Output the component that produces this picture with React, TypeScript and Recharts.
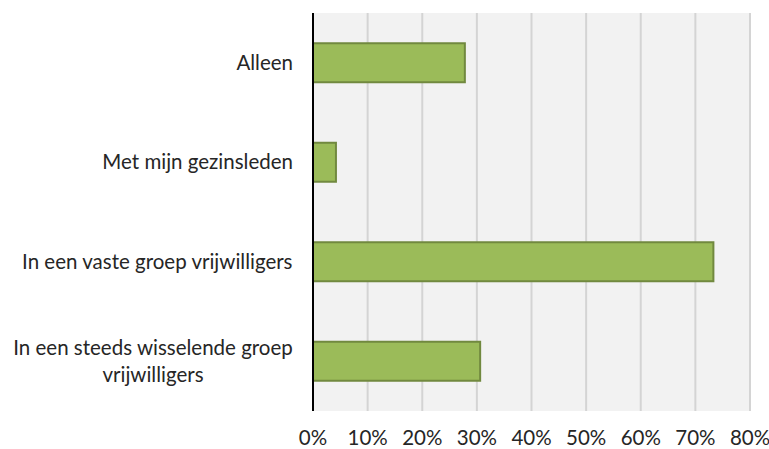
import { BarChart, Bar, XAxis, YAxis, CartesianGrid } from "recharts";

const categories = [
  "Alleen",
  "Met mijn gezinsleden",
  "In een vaste groep vrijwilligers",
  "In een steeds wisselende groep vrijwilligers",
];
const shares = [0.278, 0.042, 0.733, 0.306];
const xTicks = [0, 0.1, 0.2, 0.3, 0.4, 0.5, 0.6, 0.7, 0.8];

const data = categories.map((name, i) => ({ name, value: shares[i] }));

const FONT = "Lato, 'Open Sans', sans-serif";
const FONT_SIZE = 20.5;
const TEXT_COLOR = "#262626";

// greedy wrap on word boundaries, max chars per line
const wrap = (label: string, max = 34) => {
  const words = label.split(" ");
  const lines: string[] = [];
  let cur = "";
  for (const w of words) {
    const next = cur ? cur + " " + w : w;
    if (next.length > max && cur) {
      lines.push(cur);
      cur = w;
    } else {
      cur = next;
    }
  }
  if (cur) lines.push(cur);
  return lines;
};

let ctx: CanvasRenderingContext2D | null = null;
const measure = (s: string) => {
  if (!ctx) ctx = document.createElement("canvas").getContext("2d");
  if (!ctx) return s.length * FONT_SIZE * 0.5;
  ctx.font = `${FONT_SIZE}px Lato`;
  return ctx.measureText(s).width;
};

const CategoryTick = ({ x, y, payload }: any) => {
  const lines = wrap(String(payload.value));
  const blockW = Math.max(...lines.map(measure));
  const cx = x - blockW / 2;
  const lineH = 27;
  const startY = y - 1 - ((lines.length - 1) * lineH) / 2;
  return (
    <text
      x={cx}
      y={startY}
      textAnchor="middle"
      dominantBaseline="central"
      fontFamily={FONT}
      fontSize={FONT_SIZE}
      fill={TEXT_COLOR}
    >
      {lines.map((l, i) => (
        <tspan key={i} x={cx} y={startY + i * lineH}>
          {l}
        </tspan>
      ))}
    </text>
  );
};

export default function App() {
  return (
    <div style={{ position: "absolute", left: 0, top: 0, background: "#fff" }}>
      <BarChart
        width={769}
        height={449}
        data={data}
        layout="vertical"
        margin={{ top: 13, right: 19, left: 0, bottom: 0 }}
        barCategoryGap="30.5%"
      >
        <CartesianGrid
          horizontal={false}
          stroke="#d4d4d4"
          strokeWidth={2}
          fill="#f2f2f2"
        />
        <XAxis
          type="number"
          domain={[0, 0.8]}
          ticks={xTicks}
          interval={0}
          axisLine={false}
          tickLine={false}
          tickSize={6}
          tickMargin={13}
          height={38}
          tickFormatter={(v: number) => `${Math.round(v * 100)}%`}
          tick={{ fontFamily: FONT, fontSize: FONT_SIZE, fill: TEXT_COLOR }}
        />
        <YAxis
          type="category"
          dataKey="name"
          width={313}
          axisLine={{ stroke: "#000", strokeWidth: 2 }}
          tickLine={false}
          tickSize={6}
          tickMargin={14}
          tick={<CategoryTick />}
        />
        <Bar
          dataKey="value"
          fill="#9bbb59"
          stroke="#71893f"
          strokeWidth={2}
          isAnimationActive={false}
        />
      </BarChart>
    </div>
  );
}
